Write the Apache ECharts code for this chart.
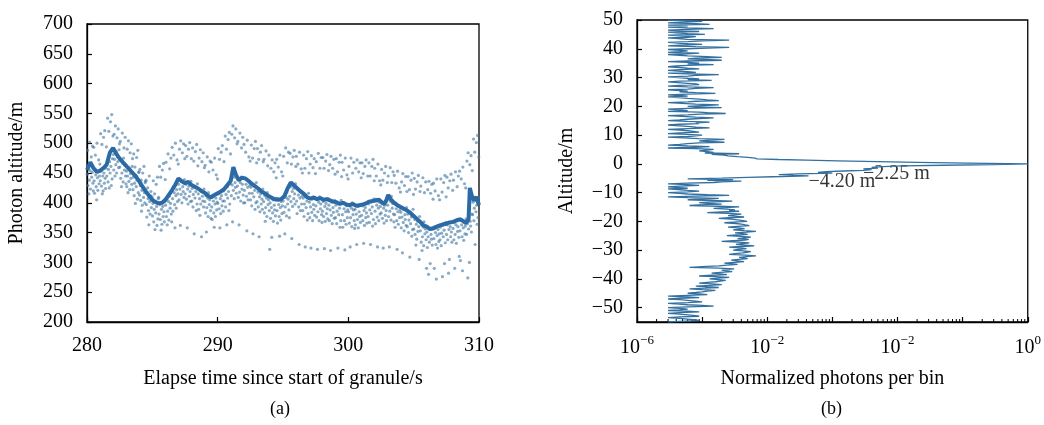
<!DOCTYPE html>
<html>
<head>
<meta charset="utf-8">
<script src="https://cdn.jsdelivr.net/npm/echarts@6/dist/echarts.min.js"></script>
<style>
  html, body { margin: 0; padding: 0; background: #fff; }
  #chart { width: 1044px; height: 425px; }
</style>
</head>
<body>
<div id="chart"></div>
<script>
// ---- (a) along-track photon heights ----
// median surface line: [elapsed time (s), altitude (m)]
const surfaceLine = [
  [280.00,455],[280.25,468],[280.50,458],[280.75,452],[281.00,454],[281.25,458],[281.50,464],[281.75,484],
  [282.00,492],[282.25,482],[282.50,474],[282.75,468],[283.00,462],[283.25,456],[283.50,450],[283.75,444],
  [284.00,436],[284.25,427],[284.50,419],[284.75,412],[285.00,405],[285.25,401],[285.50,399],[285.75,400],
  [286.00,405],[286.25,413],[286.50,421],[286.75,430],[287.00,441],[287.25,436],[287.50,433],[287.75,435],
  [288.00,430],[288.25,427],[288.50,424],[288.75,420],[289.00,417],[289.25,412],[289.50,409],[289.75,413],
  [290.00,416],[290.25,419],[290.50,423],[290.75,430],[291.00,437],[291.20,460],[291.40,447],[291.60,438],
  [291.85,442],[292.10,441],[292.35,437],[292.60,432],[292.85,428],[293.10,424],[293.35,419],[293.60,416],
  [293.85,412],[294.10,409],[294.35,406],[294.60,405],[294.85,406],[295.10,411],[295.35,424],[295.60,434],
  [295.85,429],[296.10,424],[296.35,419],[296.60,415],[296.85,409],[297.10,407],[297.35,409],[297.60,406],
  [297.85,408],[298.10,405],[298.35,406],[298.60,404],[298.85,402],[299.10,401],[299.35,398],[299.60,400],
  [299.85,397],[300.10,396],[300.35,398],[300.60,395],[300.85,396],[301.10,397],[301.35,399],[301.60,402],
  [301.85,403],[302.10,404],[302.35,405],[302.55,401],[302.75,398],[302.90,404],[303.05,413],[303.25,406],
  [303.50,400],[303.75,396],[304.00,393],[304.25,390],[304.50,387],[304.75,383],[305.00,378],[305.25,373],
  [305.50,368],[305.75,362],[306.00,360],[306.25,356],[306.50,357],[306.75,360],[307.00,362],[307.25,364],
  [307.50,365],[307.75,367],[308.00,368],[308.25,370],[308.50,372],[308.75,370],[309.00,366],[309.20,372],
  [309.30,425],[309.45,412],[309.60,404],[309.80,410],[310.00,396]
];

// photon returns: one row of altitudes (m) per half-second of shots, in shot order
const photonsFrom280 = [
  [448,488,429,458,415,438,502,454,423,463,477,443,451,495,433,420],
  [493,437,416,457,480,447,427,405,500,442,421,452,472,432,445,465],
  [437,516,453,428,498,415,445,420,510,450,433,521,441,424,458,494],
  [445,466,542,435,456,520,425,469,450,536,461,429,548,440,474,512],
  [481,455,515,473,445,529,464,486,450,509,477,469,524,459,489,499],
  [460,503,441,470,427,450,517,466,435,475,492,455,463,510,445,432],
  [453,427,490,445,417,504,436,458,422,484,449,441,499,431,461,474],
  [422,443,482,412,433,460,399,446,427,476,438,406,488,417,451,452],
  [413,456,429,404,438,386,421,396,450,426,409,461,417,400,434,436],
  [438,397,376,417,425,407,387,363,445,402,381,412,419,392,405,410],
  [378,399,437,368,389,415,355,402,383,431,394,362,443,373,407,409],
  [381,461,397,372,443,354,389,364,455,394,377,466,385,368,402,439],
  [396,468,377,406,363,386,482,402,371,411,457,391,399,475,381,368],
  [493,407,386,427,480,417,397,358,500,412,391,422,472,402,415,465],
  [431,405,490,423,362,504,414,436,400,484,427,419,499,409,439,474],
  [415,496,431,406,478,358,423,398,490,428,411,501,419,402,436,474],
  [403,424,492,393,414,470,348,427,408,486,419,387,498,398,432,462],
  [415,389,475,407,379,489,398,420,343,469,411,403,484,393,423,459],
  [402,463,383,412,351,392,477,408,377,417,452,397,405,470,387,374],
  [468,393,372,413,455,403,383,359,475,398,377,408,447,388,401,440]
];
const photonsFrom290 = [
  [399,491,415,390,473,358,407,382,485,412,395,496,403,386,420,469],
  [403,424,512,393,414,490,363,427,408,506,419,387,518,398,432,482],
  [438,412,515,430,368,529,421,443,407,509,434,426,524,416,446,499],
  [428,503,409,438,363,418,517,434,403,443,492,423,431,510,413,400],
  [498,421,400,441,485,431,411,353,505,426,405,436,477,416,429,470],
  [405,426,497,395,416,475,348,429,410,491,421,389,503,400,434,467],
  [402,491,418,393,473,343,410,385,485,415,398,496,406,389,423,469],
  [402,473,383,412,369,392,487,408,377,417,462,397,405,480,387,322],
  [400,374,458,392,342,472,383,405,369,452,396,388,467,378,408,442],
  [473,387,366,407,460,397,377,344,480,392,371,402,452,382,395,445],
  [403,478,384,413,348,393,492,409,378,418,467,398,406,485,388,375],
  [411,483,427,402,465,340,419,394,477,424,407,488,415,398,432,461],
  [478,403,382,423,465,413,393,330,485,408,387,418,457,398,411,450],
  [387,408,480,377,398,458,326,411,392,474,403,371,486,382,416,450],
  [401,375,465,393,324,479,384,406,370,459,397,389,474,379,409,449],
  [395,469,376,405,322,385,483,401,370,410,458,390,398,476,380,367],
  [386,476,402,377,458,323,394,369,470,399,382,481,390,373,407,454],
  [396,370,464,388,320,478,379,401,365,458,392,384,473,374,404,448],
  [375,396,474,365,386,452,324,399,380,468,391,359,480,370,404,444],
  [468,380,359,400,455,390,370,321,475,385,364,395,447,375,388,440]
];
const photonsFrom300 = [
  [385,461,366,395,326,375,475,391,360,400,450,380,388,468,370,357],
  [389,363,458,381,330,472,372,394,358,452,385,377,467,367,397,442],
  [379,467,395,370,449,332,387,362,461,392,375,472,383,366,400,445],
  [377,398,467,367,388,445,330,401,382,461,393,361,473,372,406,437],
  [458,386,365,406,445,396,376,326,465,391,370,401,437,381,394,430],
  [383,456,399,374,438,324,391,366,450,396,379,461,387,370,404,434],
  [396,445,377,406,326,386,459,402,371,411,434,391,399,452,381,368],
  [446,380,359,400,433,390,370,322,453,385,364,395,425,375,388,418],
  [384,358,435,376,316,449,367,389,353,429,380,372,444,362,392,419],
  [360,381,444,350,371,422,309,384,365,438,376,344,450,355,389,414],
  [356,441,372,347,423,329,364,339,435,369,352,446,360,305,377,419],
  [353,428,334,363,320,343,442,359,328,368,417,348,356,435,338,290],
  [351,325,422,343,280,436,334,356,298,416,347,339,431,329,359,406],
  [433,340,290,360,420,350,330,272,440,345,324,355,412,335,348,405],
  [338,359,440,328,349,418,276,362,343,434,354,298,446,333,367,410],
  [347,443,363,338,425,282,355,305,437,360,343,448,351,334,368,421],
  [357,438,338,367,290,347,452,363,332,372,427,352,360,445,342,310],
  [453,353,303,373,440,363,343,286,460,358,337,368,432,348,361,425],
  [373,347,470,365,274,484,356,378,300,464,369,361,479,351,381,454],
  [380,401,507,370,391,485,330,404,385,501,396,364,513,375,409,477]
];
const photonStart = 280;      // s, first shot row
const photonRowSpan = 0.5;    // s covered by one row

// ---- (b) photon histogram, normalized photons per 0.25 m bin ----
const binStep = 0.25;
const profileAboveTop = 50;   // first bin of profileAbove (m), going down
const profileAbove = [
  3e-6,6e-6,1e-5,4.5e-6,3e-6,8e-6,1.3e-5,3e-6,6e-6,4.5e-6,3e-6,6e-6,1.5e-5,6e-6,3e-6,4.5e-6,
  9e-6,3e-6,4e-6,6e-6,1.1e-5,3e-6,3e-6,8e-6,6e-6,3e-6,3e-6,6e-6,2.6e-5,1e-5,6e-6,3e-6,
  3e-6,6e-6,1e-5,4.5e-6,3e-6,8e-6,2.6e-5,1.2e-5,6e-6,3e-6,3e-6,6e-6,4.5e-6,3e-6,9e-6,6e-6,
  3e-6,4.5e-6,6e-6,1.2e-5,2e-5,8e-6,6e-6,1.4e-5,2e-5,6e-6,3e-6,6e-6,9e-6,6e-6,1.5e-5,6e-6,
  4e-6,3e-6,3e-6,6e-6,9e-6,4.5e-6,3e-6,3e-6,6e-6,8e-6,3e-6,6e-6,1.8e-5,8e-6,6e-6,3e-6,
  3e-6,6e-6,9e-6,6e-6,1.4e-5,4.5e-6,3e-6,3e-6,6e-6,8e-6,9e-6,4.5e-6,3e-6,6e-6,1.5e-5,8e-6,
  6e-6,3e-6,3e-6,6e-6,4.5e-6,8e-6,1.6e-5,6e-6,3e-6,4.5e-6,6e-6,3e-6,3e-6,6e-6,9e-6,1.2e-5,
  1.8e-5,8e-6,6e-6,3e-6,3e-6,8e-6,1.8e-5,1e-5,6e-6,8e-6,2e-5,6e-6,3e-6,4.5e-6,6e-6,3e-6,
  9e-6,1.2e-5,2.3e-5,9e-6,6e-6,3e-6,3e-6,8e-6,1.5e-5,9e-6,6e-6,4.5e-6,3e-6,6e-6,1.3e-5,8e-6,
  9e-6,4.5e-6,3e-6,3e-6,6e-6,8e-6,1.3e-5,6e-6,3e-6,4.5e-6,6e-6,6e-6,9e-6,4.5e-6,3e-6,6e-6,
  1e-5,8e-6,6e-6,3e-6,3e-6,9e-6,2.2e-5,1.4e-5,9e-6,1.2e-5,2.2e-5,9e-6,6e-6,4.5e-6,3e-6,6e-6,
  1.3e-5,8e-6,3e-6,8e-6,1.5e-5,1.2e-5,9e-6,1.2e-5
];
// around the surface return: [altitude (m), normalized photons]
const profilePeak = [
  [4,1.5e-5],[3.75,1.1e-5],[3.5,3.7e-5],[3.25,1.4e-5],[3,2.2e-5],[2.75,2.5e-5],[2.5,3.5e-5],[2.25,5e-5],
  [2,6.5e-5],[1.75,7e-5],[1.5,1.5e-4],[1.25,4e-4],[1,1.2e-3],[0.75,5e-3],[0.5,2e-2],[0.25,0.12],
  [0,1],[-0.25,0.3],[-0.5,0.05],[-0.75,0.012],[-1,6e-3],[-1.25,4e-3],[-1.5,5e-3],[-1.75,3e-3],
  [-2,4e-3],[-2.25,2.96e-3],[-2.5,1.5e-3],[-2.75,8e-4],[-3,6e-4],[-3.25,1e-3],[-3.5,3e-4],[-3.75,1.5e-4],
  [-4,2.5e-4],[-4.2,4.3e-4],[-4.5,1.2e-4],[-4.75,5e-5],[-5,2e-5],[-5.25,6e-6],[-5.5,3e-5],[-5.75,1.2e-5],
  [-6,4e-5]
];
const profileBelowTop = -6.25; // first bin of profileBelow (m), going down
const profileBelow = [
  2e-5,1.5e-5,6e-6,3e-6,6e-6,9e-6,4.5e-6,3e-6,4.5e-6,6e-6,3e-6,3e-6,6e-6,9e-6,6e-6,3e-6,
  4.5e-6,6e-6,1.2e-5,2.6e-5,8e-6,3e-6,6e-6,1.8e-5,1e-5,6e-6,1.4e-5,2.9e-5,1.6e-5,9e-6,1.2e-5,2e-5,
  9e-6,6.4e-6,1.8e-5,3.7e-5,2.2e-5,1.5e-5,2.4e-5,3.2e-5,2.6e-5,3.7e-5,2e-5,1.2e-5,2.5e-5,4e-5,3e-5,2.5e-5,
  3.4e-5,4.4e-5,2.6e-5,1.8e-5,2.8e-5,3.5e-5,4.2e-5,4.9e-5,3e-5,2.2e-5,3.3e-5,4e-5,4.6e-5,5.3e-5,3.5e-5,2.5e-5,
  3.6e-5,4.5e-5,3.8e-5,3e-5,4.4e-5,6.7e-5,4.8e-5,3.2e-5,4.2e-5,5e-5,3.4e-5,2.4e-5,3.9e-5,5.6e-5,4.4e-5,3.5e-5,
  5.2e-5,4.5e-5,3e-5,2e-5,3.6e-5,5.3e-5,4.1e-5,3.3e-5,4.6e-5,6.3e-5,4e-5,2.6e-5,3.7e-5,4.8e-5,3.6e-5,3e-5,
  4.3e-5,5.6e-5,4.8e-5,4.2e-5,3.2e-5,2.6e-5,4.6e-5,6.7e-5,4.8e-5,3.7e-5,4.2e-5,5e-5,3.6e-5,2.8e-5,3.5e-5,4.4e-5,
  3.1e-5,2.2e-5,2.8e-5,3.5e-5,2.4e-5,1.8e-5,1e-5,6.4e-6,1.8e-5,3.1e-5,2.5e-5,2e-5,2.4e-5,2.9e-5,1.9e-5,1.4e-5,
  1.9e-5,2.4e-5,1.4e-5,9e-6,1.6e-5,2.6e-5,1.8e-5,1.3e-5,1.8e-5,2.3e-5,1.9e-5,1.6e-5,1.2e-5,9e-6,1.4e-5,2e-5,
  1.3e-5,8e-6,1.2e-5,1.8e-5,1.1e-5,6.4e-6,1e-5,1.6e-5,1.2e-5,1e-5,8e-6,6e-6,9e-6,1.2e-5,6e-6,3e-6,
  6e-6,9e-6,4.5e-6,3e-6,4.5e-6,6e-6,8e-6,1e-5,6e-6,3e-6,4.5e-6,6e-6,1e-5,1.5e-5,6e-6,3e-6,
  4.5e-6,6e-6,4.5e-6,3e-6,6e-6,9e-6,4.5e-6,3e-6,4.5e-6,6e-6,8e-6,9e-6,4.5e-6,3e-6,4.5e-6,6e-6,
  8e-6,9e-6,4.5e-6,3e-6
];

// annotated returns in the histogram
const peakAltitudes = [-2.25, -4.20];
const peakLabels = ['\u22122.25 m', '\u22124.20 m'];

// tick labels
const altTicksB = [-50, -40, -30, -20, -10, 0, 10, 20, 30, 40, 50];
const logMajorExps = [-6, -5, -4, -3, -2, -1, 0];
const logLabelExps = [-6, -4, -2, 0];
const logLabelSup = ['\u22126', '\u22122', '\u22122', '0'];

const FONT = 'Liberation Serif';
const AXIS_COLOR = '#000';

// photon rows -> [time, altitude], shots evenly spaced inside each row
const photonPoints = [];
photonsFrom280.concat(photonsFrom290, photonsFrom300).forEach((row, r) => {
  row.forEach((alt, k) => {
    photonPoints.push([photonStart + photonRowSpan * (r + (k + 0.5) / row.length), alt]);
  });
});

// histogram rows [altitude, photons] from top to bottom
const profileRows = []
  .concat(profileAbove.map((v, i) => [profileAboveTop - i * binStep, v]))
  .concat(profilePeak)
  .concat(profileBelow.map((v, i) => [profileBelowTop - i * binStep, v]));
const profile = profileRows.map(p => [p[1], p[0]]);

function profileAt(alt) {
  const row = profileRows.find(p => Math.abs(p[0] - alt) < 1e-9);
  return row ? row[1] : null;
}
const peakPoints = peakAltitudes.map((a, i) => ({ value: [profileAt(a), a], labelText: peakLabels[i] }));

// minor tick positions on the log axis (2..9 in every decade)
const minorTicks = [];
for (let e = -6; e < 0; e++) {
  for (let k = 2; k <= 9; k++) minorTicks.push([k * Math.pow(10, e), -55]);
}

const chart = echarts.init(document.getElementById('chart'), null, { renderer: 'canvas' });

const axisLineStyle = { show: true, onZero: false, lineStyle: { color: AXIS_COLOR, width: 1.3 } };
const labelStyle = { fontFamily: FONT, fontSize: 20, color: '#000' };
const nameStyle = { fontFamily: FONT, fontSize: 20, color: '#000' };

chart.setOption({
  animation: false,
  backgroundColor: '#fff',
  grid: [
    { left: 87, top: 24, width: 392, height: 298, show: true, borderColor: AXIS_COLOR, borderWidth: 1.3 },
    { left: 637, top: 20, width: 394, height: 302, show: true, borderColor: AXIS_COLOR, borderWidth: 1.3 }
  ],
  xAxis: [
    {
      gridIndex: 0, type: 'value', min: 280, max: 310, interval: 10,
      axisLine: axisLineStyle,
      axisTick: { inside: true, length: 5, lineStyle: { color: AXIS_COLOR, width: 1.2 } },
      axisLabel: Object.assign({ margin: 14 }, labelStyle),
      splitLine: { show: false },
      name: 'Elapse time since start of granule/s', nameLocation: 'middle', nameGap: 47,
      nameTextStyle: nameStyle
    },
    {
      gridIndex: 1, type: 'log', logBase: 10, min: 1e-6, max: 1,
      axisLine: axisLineStyle,
      axisTick: {
        inside: true, length: 5, lineStyle: { color: AXIS_COLOR, width: 1.2 },
        customValues: logMajorExps.map(e => Math.pow(10, e))
      },
      axisLabel: {
        margin: 12,
        customValues: logLabelExps.map(e => Math.pow(10, e)),
        formatter: function (v) {
          const i = logLabelExps.indexOf(Math.round(Math.log10(v)));
          return i < 0 ? '' : '{b|10}{s|' + logLabelSup[i] + '}';
        },
        rich: {
          b: { fontFamily: FONT, fontSize: 20, color: '#000', lineHeight: 24, verticalAlign: 'bottom' },
          s: { fontFamily: FONT, fontSize: 13, color: '#000', lineHeight: 24, verticalAlign: 'top' }
        }
      },
      splitLine: { show: false },
      name: 'Normalized photons per bin', nameLocation: 'middle', nameGap: 47,
      nameTextStyle: nameStyle
    }
  ],
  yAxis: [
    {
      gridIndex: 0, type: 'value', min: 200, max: 700, interval: 50,
      axisLine: axisLineStyle,
      axisTick: { inside: true, length: 5, lineStyle: { color: AXIS_COLOR, width: 1.2 } },
      axisLabel: Object.assign({ margin: 14 }, labelStyle),
      splitLine: { show: false },
      name: 'Photon altitude/m', nameLocation: 'middle', nameGap: 60,
      nameTextStyle: nameStyle
    },
    {
      gridIndex: 1, type: 'value', min: -55, max: 50,
      axisLine: axisLineStyle,
      axisTick: { inside: true, length: 5, lineStyle: { color: AXIS_COLOR, width: 1.2 }, customValues: altTicksB },
      axisLabel: Object.assign({
        margin: 14, customValues: altTicksB,
        formatter: v => String(v).replace('-', '\u2212')
      }, labelStyle),
      splitLine: { show: false },
      name: 'Altitude/m', nameLocation: 'middle', nameGap: 60,
      nameTextStyle: nameStyle
    }
  ],
  series: [
    {
      name: 'photons', type: 'scatter', xAxisIndex: 0, yAxisIndex: 0,
      data: photonPoints, large: false,
      symbol: 'circle', symbolSize: 3.2,
      itemStyle: { color: 'rgba(68,120,162,0.78)' },
      silent: true
    },
    {
      name: 'surface', type: 'line', xAxisIndex: 0, yAxisIndex: 0,
      data: surfaceLine, showSymbol: false,
      lineStyle: { color: '#2b6aa5', width: 4 },
      silent: true
    },
    {
      name: 'histogram', type: 'line', xAxisIndex: 1, yAxisIndex: 1,
      data: profile, showSymbol: false,
      lineStyle: { color: '#33709f', width: 1.3 },
      silent: true
    },
    {
      name: 'minor ticks', type: 'custom', xAxisIndex: 1, yAxisIndex: 1,
      data: minorTicks, clip: false, silent: true,
      renderItem: function (params, api) {
        const p = api.coord([api.value(0), api.value(1)]);
        return {
          type: 'line',
          shape: { x1: p[0], y1: p[1], x2: p[0], y2: p[1] - 3 },
          style: { stroke: AXIS_COLOR, lineWidth: 1 }
        };
      }
    },
    {
      name: 'peaks', type: 'scatter', xAxisIndex: 1, yAxisIndex: 1,
      data: peakPoints, symbolSize: 0, silent: true,
      label: {
        show: true, position: 'inside', align: 'left', verticalAlign: 'middle',
        fontFamily: FONT, fontSize: 20, color: '#000',
        formatter: p => p.data.labelText
      },
      labelLayout: function (params) {
        return { dy: params.dataIndex === 0 ? 3 : 6 };
      }
    }
  ],
  graphic: [
    { type: 'text', left: 270, top: 400, style: { text: '(a)', font: '18px "Liberation Serif"', fill: '#000' } },
    { type: 'text', left: 821, top: 400, style: { text: '(b)', font: '18px "Liberation Serif"', fill: '#000' } }
  ]
});
</script>
</body>
</html>
